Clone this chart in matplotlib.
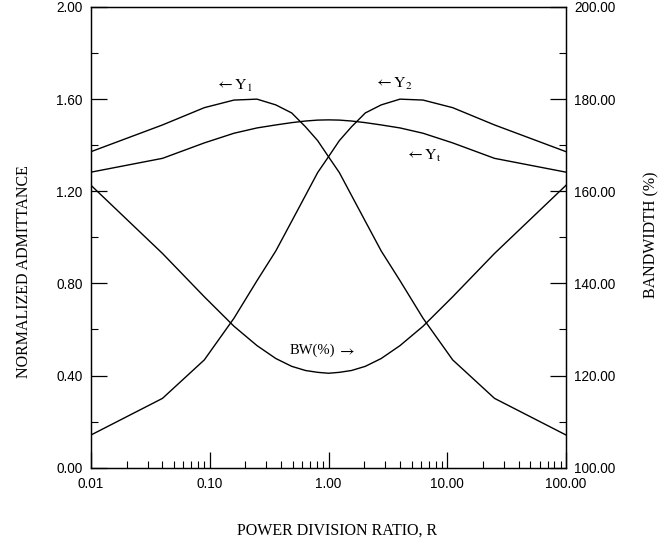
import matplotlib
matplotlib.use("Agg")
import matplotlib.pyplot as plt
from matplotlib.ticker import FixedLocator, FuncFormatter, LogLocator, NullFormatter

plt.rcParams['mathtext.fontset'] = 'stix'

# Power division ratio R
R = [0.01, 0.04, 0.09, 0.16, 0.25, 0.36, 0.49, 0.64, 0.81, 1.0,
     1.2346, 1.5625, 2.0408, 2.7778, 4.0, 6.25, 11.111, 25.0, 100.0]

# Normalized admittances (left axis)
Y1 = [1.372, 1.488, 1.563, 1.596, 1.600, 1.575, 1.540, 1.480, 1.420, 1.350,
      1.281, 1.182, 1.070, 0.941, 0.812, 0.649, 0.468, 0.301, 0.142]
Y2 = [0.142, 0.301, 0.468, 0.649, 0.812, 0.941, 1.070, 1.182, 1.281, 1.350,
      1.420, 1.480, 1.540, 1.575, 1.600, 1.596, 1.563, 1.488, 1.372]
Yt = [1.283, 1.343, 1.410, 1.452, 1.475, 1.488, 1.498, 1.505, 1.509, 1.510,
      1.509, 1.505, 1.498, 1.488, 1.475, 1.452, 1.410, 1.343, 1.283]

# Bandwidth (%) (right axis)
BW = [161.3, 146.5, 137.1, 130.7, 126.5, 123.7, 122.0, 121.1, 120.7, 120.5,
      120.7, 121.1, 122.0, 123.7, 126.5, 130.7, 137.1, 146.5, 161.3]

W, H = 668, 546
fig = plt.figure(figsize=(W / 100, H / 100), dpi=100)
ax = fig.add_axes([91 / W, 1 - 467.7 / H, (566 - 91) / W, (467.7 - 7) / H])
ax2 = ax.twinx()

lw = 1.0
ax.plot(R, Y1, color='black', lw=lw)
ax.plot(R, Y2, color='black', lw=lw)
ax.plot(R, Yt, color='black', lw=lw)
ax2.plot(R, BW, color='black', lw=lw)

ax.set_xscale('log')
ax.set_xlim(0.01, 100)
ax.set_ylim(0, 2.0)
ax2.set_ylim(100, 200)

tickfont = 'Liberation Sans'
serif = 'Liberation Serif'

ax.xaxis.set_major_locator(FixedLocator([0.01, 0.1, 1, 10, 100]))
ax.xaxis.set_minor_locator(LogLocator(base=10, subs=range(2, 10)))
ax.xaxis.set_minor_formatter(NullFormatter())
ax.xaxis.set_major_formatter(FuncFormatter(lambda v, p: f"{v:.2f}"))

ax.yaxis.set_major_locator(FixedLocator([0, 0.4, 0.8, 1.2, 1.6, 2.0]))
ax.yaxis.set_minor_locator(FixedLocator([0.2, 0.6, 1.0, 1.4, 1.8]))
ax.yaxis.set_major_formatter(FuncFormatter(lambda v, p: f"{v:.2f}"))

ax2.yaxis.set_major_locator(FixedLocator([100, 120, 140, 160, 180, 200]))
ax2.yaxis.set_minor_locator(FixedLocator([110, 130, 150, 170, 190]))
ax2.yaxis.set_major_formatter(FuncFormatter(lambda v, p: f"{v:.2f}"))

ax.tick_params(axis='both', which='major', direction='in', length=11.3, width=0.9,
               labelsize=9.8, pad=6.0)
ax.tick_params(axis='both', which='minor', direction='in', length=5.3, width=0.8)
ax.tick_params(axis='x', which='major', pad=7)
ax.tick_params(axis='y', which='both', right=False)
ax.tick_params(axis='x', which='both', top=False)
ax2.tick_params(axis='y', which='major', direction='in', length=11.3, width=0.9,
                labelsize=9.8, pad=6.0)
ax2.tick_params(axis='y', which='minor', direction='in', length=5.3, width=0.8)
for lab in ax.get_xticklabels() + ax.get_yticklabels() + ax2.get_yticklabels():
    lab.set_fontfamily(tickfont)

for a in (ax, ax2):
    for s in a.spines.values():
        s.set_linewidth(0.9)

fig.text(24 / W, 1 - 272 / H, 'NORMALIZED ADMITTANCE', rotation=90, ha='center',
         va='center', fontsize=11.5, family=serif)
fig.text(651 / W, 1 - 235 / H, 'BANDWIDTH (%)', rotation=90, ha='center',
         va='center', fontsize=11.5, family=serif)
fig.text(337.5 / W, 1 - 531 / H, 'POWER DIVISION RATIO, R', ha='center',
         va='center', fontsize=11.5, family=serif)

def to_fig(x, y):
    return x / W, 1 - y / H

fig.text(*to_fig(215, 86), r'$\leftarrow\mathrm{Y}_\mathrm{1}$', fontsize=11.5, va='center', ha='left')
fig.text(*to_fig(374, 84), r'$\leftarrow\mathrm{Y}_\mathrm{2}$', fontsize=11.5, va='center', ha='left')
fig.text(*to_fig(405, 156), r'$\leftarrow\mathrm{Y}_\mathrm{t}$', fontsize=11.5, va='center', ha='left')
fig.text(*to_fig(290, 350), r'BW(%)', fontsize=10.5, va='center', ha='left', family=serif)
fig.text(*to_fig(337, 351), r'$\rightarrow$', fontsize=11.5, va='center', ha='left')

fig.savefig('out.png', dpi=100)
